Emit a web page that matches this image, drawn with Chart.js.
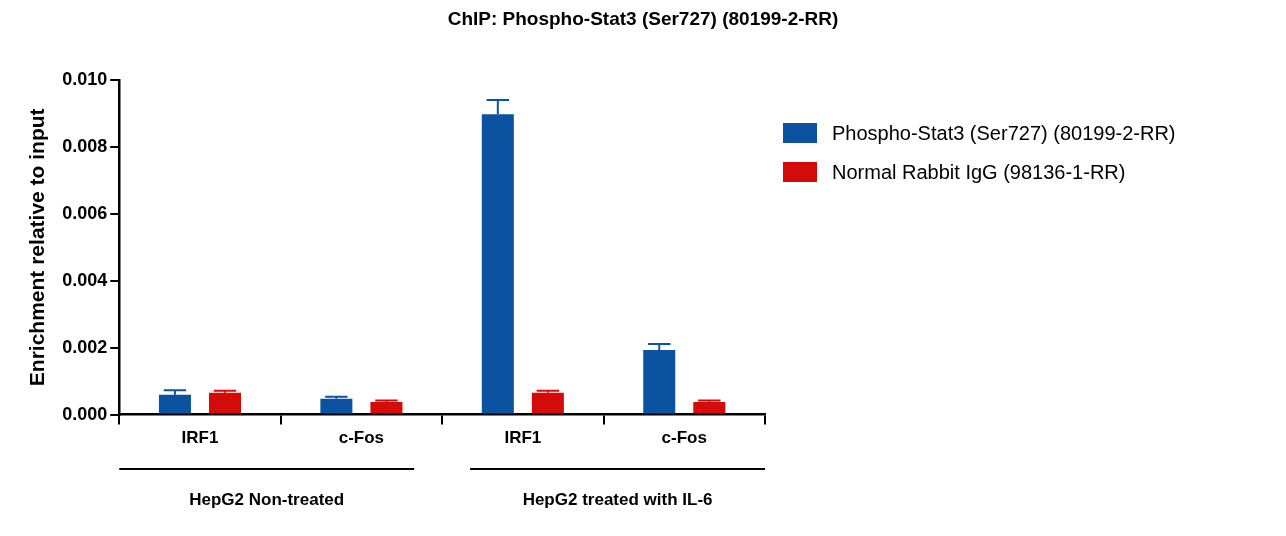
<!DOCTYPE html>
<html>
<head>
<meta charset="UTF-8">
<script src="https://cdn.jsdelivr.net/npm/chart.js"></script>
<style>body{margin:0;background:#fff}#wrap{width:1286px;height:536px}</style>
</head>
<body>
<div id="wrap"><canvas id="barra"></canvas></div>
<script>
const categorias = ['IRF1', 'c-Fos', 'IRF1', 'c-Fos'];
const grupos = ['HepG2 Non-treated', 'HepG2 treated with IL-6'];
const stat3 = [0.00059, 0.00047, 0.00898, 0.00193];
const stat3Erro = [0.00014, 0.00006, 0.00042, 0.00018];
const igg = [0.00065, 0.00038, 0.00065, 0.00038];
const iggErro = [0.00006, 0.00004, 0.00006, 0.00004];
const rotulos = ['Phospho-Stat3 (Ser727) (80199-2-RR)', 'Normal Rabbit IgG (98136-1-RR)'];
const titulo = 'ChIP: Phospho-Stat3 (Ser727) (80199-2-RR)';

const fonte = 'Arial, "Liberation Sans", sans-serif';

const erros = {
  id: 'erros',
  afterDatasetsDraw(chart) {
    const ctx = chart.ctx, y = chart.scales.y;
    [stat3Erro, iggErro].forEach((err, d) => {
      const meta = chart.getDatasetMeta(d);
      ctx.strokeStyle = chart.data.datasets[d].backgroundColor;
      ctx.lineWidth = 2;
      meta.data.forEach((bar, i) => {
        const top = y.getPixelForValue(chart.data.datasets[d].data[i] + err[i]);
        const w = bar.width * 0.35;
        ctx.beginPath();
        ctx.moveTo(bar.x, bar.y); ctx.lineTo(bar.x, top);
        ctx.moveTo(bar.x - w, top); ctx.lineTo(bar.x + w, top);
        ctx.stroke();
      });
    });
  }
};

const extras = {
  id: 'extras',
  afterDraw(chart) {
    const ctx = chart.ctx, x = chart.scales.x, area = chart.chartArea;
    ctx.save();
    ctx.fillStyle = '#000';
    ctx.textAlign = 'center'; ctx.textBaseline = 'middle';
    ctx.font = 'bold 19px ' + fonte;
    ctx.fillText(titulo, chart.width / 2, 20);
    // grupos
    ctx.strokeStyle = '#000'; ctx.lineWidth = 2;
    ctx.font = 'bold 17px ' + fonte;
    const meio = (x.getPixelForValue(1) + x.getPixelForValue(2)) / 2;
    [[area.left, meio - 28], [meio + 28, area.right]].forEach((g, k) => {
      ctx.beginPath(); ctx.moveTo(g[0], 469); ctx.lineTo(g[1], 469); ctx.stroke();
      ctx.fillText(grupos[k], (g[0] + g[1]) / 2, 500);
    });
    // legenda
    ctx.textAlign = 'left';
    ctx.font = '20px ' + fonte;
    chart.data.datasets.forEach((ds, i) => {
      const yy = 133 + i * 39;
      ctx.fillStyle = ds.backgroundColor;
      ctx.fillRect(783, yy - 10, 34, 20);
      ctx.fillStyle = '#000';
      ctx.fillText(ds.label, 832, yy + 1);
    });
    ctx.restore();
  }
};

new Chart(document.getElementById('barra'), {
  type: 'bar',
  data: {
    labels: categorias,
    datasets: [
      { label: rotulos[0], data: stat3, backgroundColor: '#0b52a0' },
      { label: rotulos[1], data: igg, backgroundColor: '#d40b0b' }
    ]
  },
  options: {
    responsive: true, maintainAspectRatio: false, animation: false,
    categoryPercentage: 0.62, barPercentage: 0.64,
    layout: { padding: { left: 22, right: 521, top: 80, bottom: 83 } },
    plugins: {
      legend: { display: false },
      tooltip: { enabled: false }
    },
    scales: {
      x: {
        grid: { drawOnChartArea: false, tickLength: 10, color: '#000', lineWidth: 2 },
        border: { color: '#000', width: 2.5 },
        ticks: { color: '#000', font: { family: fonte, size: 17, weight: 'bold' }, padding: 4 }
      },
      y: {
        min: 0, max: 0.010,
        grid: { drawOnChartArea: false, tickLength: 9, color: '#000', lineWidth: 2 },
        border: { color: '#000', width: 2.5 },
        ticks: { stepSize: 0.002, color: '#000', font: { family: fonte, size: 18, weight: 'bold' },
          callback: v => v.toFixed(3) },
        title: { display: true, text: 'Enrichment relative to input', color: '#000', padding: { bottom: 8 },
          font: { family: fonte, size: 21, weight: 'bold' } }
      }
    }
  },
  plugins: [erros, extras]
});
</script>
</body>
</html>
